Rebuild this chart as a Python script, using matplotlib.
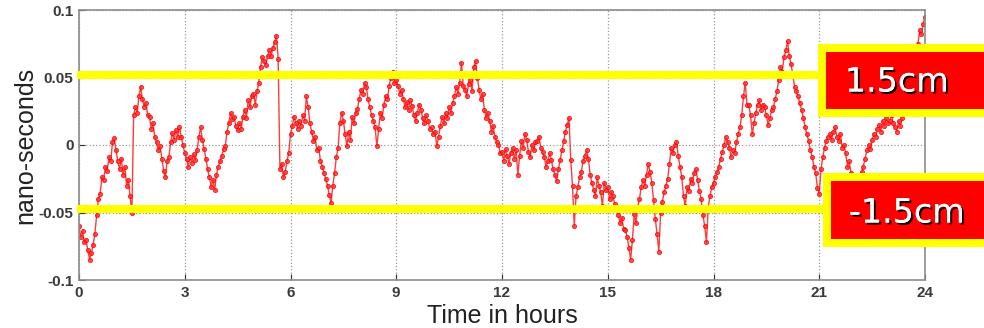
import numpy as np
import matplotlib
matplotlib.use('Agg')
import matplotlib.pyplot as plt
import matplotlib.patheffects as pe
from matplotlib.patches import Rectangle
from matplotlib.lines import Line2D

# clock offset, one value every 3 minutes (0.05 h), hour by hour
h00 = [-0.060, -0.068, -0.064, -0.072, -0.070, -0.078, -0.085, -0.080, -0.074, -0.066,
       -0.052, -0.040, -0.036, -0.024, -0.026, -0.016, -0.019, -0.009, -0.012, 0.002]
h01 = [0.005, -0.004, -0.012, -0.018, -0.010, -0.022, -0.016, -0.030, -0.026, -0.038,
       -0.050, 0.022, 0.028, 0.024, 0.036, 0.043, 0.034, 0.028, 0.031, 0.022]
h02 = [0.021, 0.012, 0.016, 0.006, 0.002, -0.004, -0.001, -0.010, -0.019, -0.024,
       -0.012, -0.009, 0.002, 0.009, 0.004, 0.011, 0.006, 0.013, 0.006, 0.000]
h03 = [-0.006, -0.010, -0.016, -0.009, -0.013, -0.007, -0.011, -0.004, 0.006, 0.013,
       0.004, -0.003, -0.010, -0.018, -0.024, -0.031, -0.026, -0.033, -0.022, -0.016]
h04 = [-0.012, -0.008, -0.003, -0.001, 0.010, 0.016, 0.024, 0.019, 0.021, 0.014,
       0.011, 0.016, 0.012, 0.021, 0.026, 0.020, 0.033, 0.028, 0.036, 0.038]
h05 = [0.030, 0.040, 0.046, 0.058, 0.065, 0.062, 0.059, 0.066, 0.070, 0.066,
       0.072, 0.076, 0.081, 0.064, -0.018, -0.014, -0.024, -0.020, -0.012, -0.006]
h06 = [0.008, 0.014, 0.021, 0.016, 0.012, 0.018, 0.014, 0.022, 0.018, 0.036,
       0.028, 0.016, 0.010, 0.003, 0.006, -0.004, -0.002, -0.012, -0.016, -0.021]
h07 = [-0.025, -0.030, -0.037, -0.043, -0.030, -0.021, -0.009, -0.002, 0.016, 0.024,
       0.018, 0.008, -0.001, 0.010, 0.004, 0.021, 0.016, 0.024, 0.027, 0.034]
h08 = [0.041, 0.038, 0.046, 0.043, 0.034, 0.028, 0.022, 0.018, 0.013, -0.001,
       0.012, 0.024, 0.020, 0.030, 0.036, 0.034, 0.044, 0.050, 0.054, 0.046]
h09 = [0.048, 0.044, 0.038, 0.041, 0.034, 0.028, 0.032, 0.026, 0.033, 0.029,
       0.022, 0.018, 0.024, 0.030, 0.026, 0.020, 0.016, 0.022, 0.018, 0.012]
h10 = [0.013, 0.008, 0.010, -0.001, 0.006, 0.014, 0.021, 0.016, 0.024, 0.020,
       0.028, 0.024, 0.031, 0.036, 0.043, 0.038, 0.046, 0.061, 0.044, 0.041]
h11 = [0.036, 0.045, 0.048, 0.040, 0.058, 0.062, 0.050, 0.041, 0.034, 0.038,
       0.026, 0.020, 0.024, 0.018, 0.010, 0.014, 0.006, 0.002, 0.000, -0.006]
h12 = [-0.005, -0.012, -0.003, -0.008, -0.014, -0.006, -0.002, -0.010, -0.004, -0.022,
       -0.008, 0.003, -0.002, 0.008, 0.004, -0.005, -0.009, 0.000, -0.004, 0.002]
h13 = [0.003, 0.006, -0.002, -0.005, -0.009, -0.016, -0.012, -0.006, -0.011, -0.018,
       -0.022, -0.027, -0.018, -0.011, -0.004, 0.003, 0.010, 0.015, 0.020, -0.011]
h14 = [-0.030, -0.060, -0.038, -0.031, -0.024, -0.020, -0.012, -0.008, -0.004, -0.010,
       -0.022, -0.028, -0.033, -0.038, -0.024, -0.030, -0.035, -0.045, -0.028, -0.033]
h15 = [-0.031, -0.040, -0.035, -0.038, -0.044, -0.048, -0.052, -0.058, -0.054, -0.062,
       -0.063, -0.068, -0.076, -0.085, -0.070, -0.051, -0.058, -0.046, -0.040, -0.031]
h16 = [-0.026, -0.030, -0.022, -0.014, -0.020, -0.028, -0.041, -0.055, -0.066, -0.079,
       -0.050, -0.042, -0.035, -0.030, -0.025, -0.014, -0.002, -0.006, 0.000, 0.002]
h17 = [-0.008, -0.016, -0.024, -0.038, -0.045, -0.031, -0.034, -0.025, -0.028, -0.021,
       -0.018, -0.026, -0.034, -0.040, -0.052, -0.060, -0.072, -0.046, -0.038, -0.031]
h18 = [-0.028, -0.024, -0.020, -0.016, -0.010, -0.005, 0.000, 0.006, 0.002, -0.002,
       -0.009, -0.004, -0.006, 0.002, 0.008, 0.013, 0.022, 0.036, 0.046, 0.030]
h19 = [0.030, 0.022, 0.008, 0.016, 0.024, 0.030, 0.033, 0.026, 0.030, 0.028,
       0.022, 0.015, 0.020, 0.026, 0.028, 0.034, 0.040, 0.048, 0.058, 0.054]
h20 = [0.065, 0.070, 0.077, 0.066, 0.060, 0.052, 0.043, 0.040, 0.036, 0.031,
       0.026, 0.020, 0.013, 0.008, 0.003, -0.004, -0.009, -0.016, -0.021, -0.032]
h21 = [-0.036, -0.018, -0.009, -0.002, 0.003, 0.006, 0.008, 0.004, 0.010, 0.013,
       0.006, 0.003, 0.008, -0.002, 0.000, -0.006, -0.016, -0.012, -0.021, -0.026]
h22 = [-0.030, -0.034, -0.028, -0.024, -0.020, -0.016, -0.010, -0.004, 0.000, -0.003,
       0.004, 0.008, 0.006, 0.012, 0.015, 0.010, 0.018, 0.014, 0.020, 0.016]
h23 = [0.018, 0.022, 0.016, 0.013, 0.010, 0.018, 0.014, 0.020, 0.026, 0.030,
       0.024, 0.034, 0.040, 0.046, 0.060, 0.068, 0.075, 0.085, 0.082, 0.090]
h24 = [0.095]

offset_ns = np.array(h00 + h01 + h02 + h03 + h04 + h05 + h06 + h07 + h08 + h09 + h10 + h11 +
                     h12 + h13 + h14 + h15 + h16 + h17 + h18 + h19 + h20 + h21 + h22 + h23 + h24)
hours = np.linspace(0, 24, len(offset_ns))

band_ns = [0.052, -0.0475]
band_labels = ['1.5cm', '-1.5cm']
xticks = [0, 3, 6, 9, 12, 15, 18, 21, 24]
yticks = [-0.1, -0.05, 0, 0.05, 0.1]
ytick_labels = ['-0.1', '-0.05', '0', '0.05', '0.1']

plt.rcParams['font.family'] = ['Liberation Sans', 'DejaVu Sans']

W, H = 984, 328
fig = plt.figure(figsize=(W / 100, H / 100), dpi=100)
ax = fig.add_axes([79 / W, 1 - 280 / H, (925 - 79) / W, 270 / H])

ax.plot(hours, offset_ns, color='#ff1a1a', lw=1.0, marker='o', ms=3.0,
        mec='#ff0000', mfc='#ff3030', mew=0.6, alpha=0.85)

ax.set_xlim(0, 24)
ax.set_ylim(-0.1, 0.1)
ax.set_xticks(xticks)
ax.set_yticks(yticks)
ax.set_yticklabels(ytick_labels)
ax.grid(True, ls=':', color='#9a9a9a', lw=0.9)
ax.tick_params(direction='in', length=4, labelsize=11, colors='#333333', pad=4)
for lab in ax.get_xticklabels() + ax.get_yticklabels():
    lab.set_fontweight('bold')
    lab.set_color('#3a3a3a')
for s in ax.spines.values():
    s.set_color('#8c8c8c')
    s.set_linewidth(1.2)
ax.set_xlabel('Time in hours', fontsize=18, color='#222222', labelpad=3)
ax.set_ylabel('nano-seconds', fontsize=18, color='#222222', labelpad=1)

# yellow reference lines running from the axis out to the tags
to_px = lambda v: ax.transData.transform((0, v))[1]
line_end = [818, 823]
for v, xe in zip(band_ns, line_end):
    yp = to_px(v) / H
    fig.add_artist(Line2D([77 / W, xe / W], [yp, yp], color='#ffff00', lw=5.8,
                          solid_capstyle='butt'))

# red tags with yellow border
tags = [(818, 44, 117, 8), (823, 173, 247, 8)]
text_pos = [(897, 82), (907, 213)]
for (x0, yt, yb, b), (tx, ty), lab in zip(tags, text_pos, band_labels):
    fig.add_artist(Rectangle((x0 / W, 1 - yb / H), (W - x0) / W, (yb - yt) / H,
                             transform=fig.transFigure, facecolor='#ffff00', edgecolor='none'))
    fig.add_artist(Rectangle(((x0 + b) / W, 1 - (yb - b) / H), (W - x0 - b) / W,
                             (yb - yt - 2 * b) / H, transform=fig.transFigure,
                             facecolor='#ff0000', edgecolor='none'))
    fig.text(tx / W, 1 - ty / H, lab, family='DejaVu Sans', fontsize=24, color='white',
             ha='center', va='center',
             path_effects=[pe.withSimplePatchShadow(offset=(1.5, -1.5), shadow_rgbFace='black',
                                                    alpha=0.9), pe.Normal()])

fig.savefig('out.png', dpi=100, facecolor='white')
